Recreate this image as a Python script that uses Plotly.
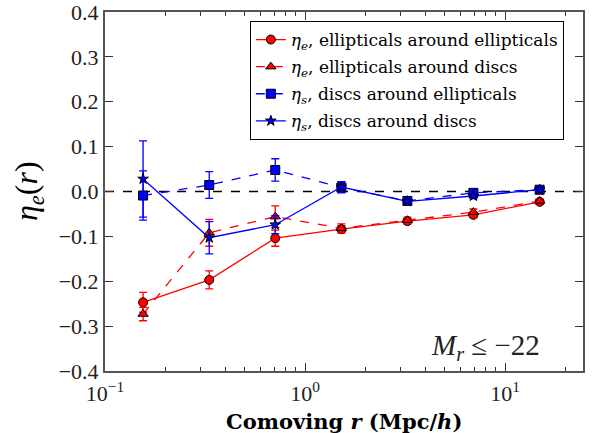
import plotly.graph_objects as go

# separation bins (Mpc/h)
r_bins = [0.155, 0.332, 0.71, 1.52, 3.25, 6.95, 14.9]

# ellipticals around ellipticals
eta_ee = [-0.247, -0.197, -0.104, -0.084, -0.066, -0.052, -0.023]
err_ee = [0.022, 0.020, 0.018, 0.008, 0.006, 0.006, 0.005]

# ellipticals around discs
eta_ed = [-0.273, -0.092, -0.056, -0.082, -0.064, -0.046, -0.021]
err_ed = [0.015, 0.030, 0.024, 0.010, 0.007, 0.007, 0.005]

# discs around ellipticals
eta_se = [-0.009, 0.0145, 0.048, 0.009, -0.021, -0.003, 0.004]
err_se = [0.055, 0.030, 0.025, 0.012, 0.006, 0.006, 0.004]

# discs around discs
eta_sd = [0.028, -0.103, -0.074, 0.010, -0.022, -0.010, 0.004]
err_sd = [0.085, 0.036, 0.020, 0.012, 0.006, 0.006, 0.004]

names = [
    "<i>η<sub>e</sub></i>, ellipticals around ellipticals",
    "<i>η<sub>e</sub></i>, ellipticals around discs",
    "<i>η<sub>s</sub></i>, discs around ellipticals",
    "<i>η<sub>s</sub></i>, discs around discs",
]

SERIF = "Liberation Serif"
WIDE_SERIF = "DejaVu Serif"

series = [
    (eta_ee, err_ee, "red", "solid", "circle", 9),
    (eta_ed, err_ed, "red", "dash", "triangle-up", 9),
    (eta_se, err_se, "blue", "dash", "square", 9),
    (eta_sd, err_sd, "blue", "solid", "star", 8),
]

fig = go.Figure()

# zero reference line
fig.add_shape(type="line", xref="paper", yref="y", x0=0, x1=1, y0=0, y1=0,
              line=dict(color="black", width=1.3, dash="dash"), layer="below")

for (vals, errs, col, dash, sym, size), name in zip(series, names):
    fig.add_trace(go.Scatter(
        x=r_bins, y=vals, name=name, mode="lines+markers",
        line=dict(color=col, width=1.3, dash=dash),
        marker=dict(symbol=sym, size=size, color=col,
                    line=dict(color="black", width=1)),
        error_y=dict(type="data", array=errs, visible=True,
                     color=col, thickness=1.3, width=4),
        legendgroup=name,
    ))

major_x = [0.1, 1, 10]
major_x_text = ["10<sup>−1</sup>", "10<sup>0</sup>", "10<sup>1</sup>"]
minor_x = [m * d for d in (0.1, 1, 10) for m in range(2, 10)]

fig.update_layout(
    width=595, height=433,
    margin=dict(l=105, r=12, t=12, b=62, autoexpand=False),
    paper_bgcolor="white", plot_bgcolor="white",
    font=dict(family=SERIF, color="black"),
    showlegend=True,
    legend=dict(
        x=0.303, y=0.975, xanchor="left", yanchor="top",
        bordercolor="black", borderwidth=1, bgcolor="white",
        font=dict(family=WIDE_SERIF, size=17, color="black"),
        tracegroupgap=2,
    ),
    xaxis=dict(
        type="log", range=[-1, 1.39], automargin=False,
        tickmode="array", tickvals=major_x, ticktext=major_x_text,
        ticks="inside", ticklen=8, tickwidth=1, tickcolor="#333",
        mirror="allticks", showline=True, linecolor="#555", linewidth=2,
        showgrid=False, zeroline=False, ticklabeloverflow="allow",
        ticklabelstandoff=2,
        tickfont=dict(family=SERIF, size=22, color="#222"),
        minor=dict(tickmode="array", tickvals=minor_x, ticks="inside",
                   ticklen=4, tickwidth=1, tickcolor="#333", showgrid=False),
    ),
    yaxis=dict(
        range=[-0.4, 0.4], dtick=0.1, tick0=0, tickformat=".1f",
        automargin=False, ticklabeloverflow="allow",
        ticks="inside", ticklen=8, tickwidth=1, tickcolor="#333",
        mirror="allticks", showline=True, linecolor="#555", linewidth=2,
        showgrid=False, zeroline=False,
        tickfont=dict(family=SERIF, size=22, color="#222"),
    ),
    annotations=[
        dict(text="<b>Comoving <i>r</i> (Mpc/<i>h</i>)</b>",
             xref="paper", yref="paper", x=0.5, y=-0.14,
             xanchor="center", yanchor="middle", showarrow=False,
             font=dict(family=WIDE_SERIF, size=21, color="black")),
        dict(text="<i>η</i><sub><i>e</i></sub>(<i>r</i>)",
             xref="paper", yref="paper", x=-0.16, y=0.5, textangle=-90,
             xanchor="center", yanchor="middle", showarrow=False,
             font=dict(family=SERIF, size=32, color="black")),
        dict(text="<i>M</i><sub><i>r</i></sub> ≤ −22",
             xref="paper", yref="paper", x=0.914, y=0.067,
             xanchor="right", yanchor="middle", showarrow=False,
             font=dict(family=SERIF, size=29, color="#222")),
    ],
)

fig.write_html("out.html")
